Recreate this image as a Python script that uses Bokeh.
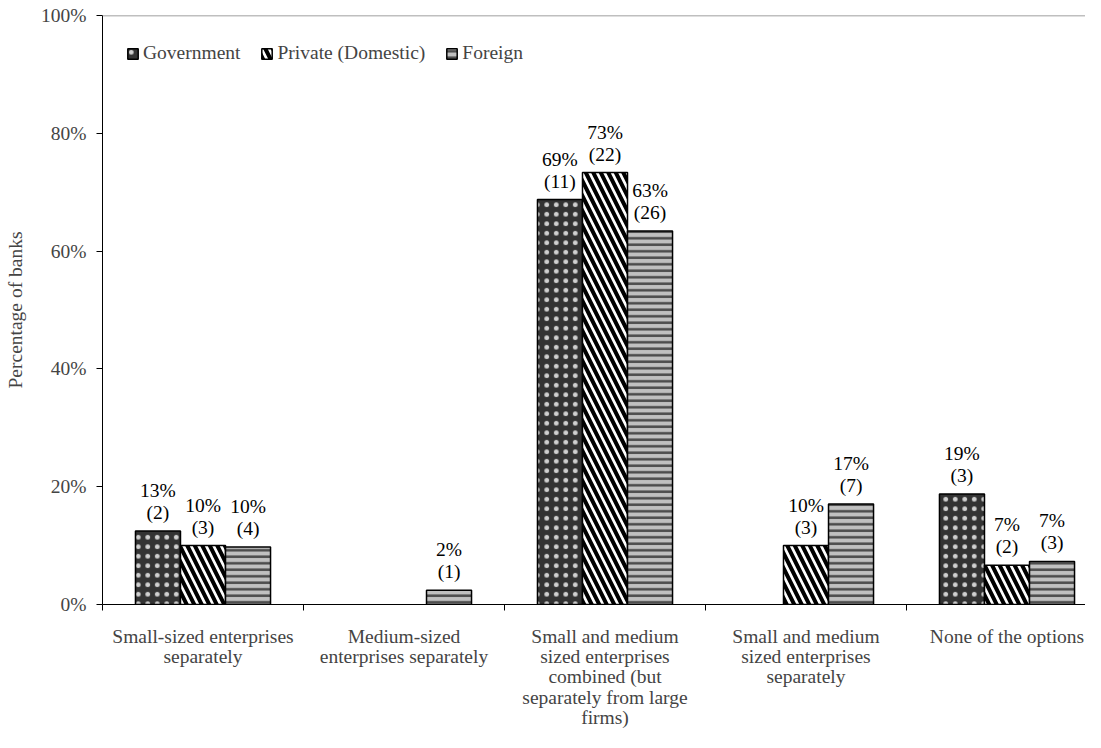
import numpy as np
from bokeh.plotting import figure
from bokeh.models import (ColumnDataSource, FixedTicker, PrintfTickFormatter, Range1d,
                          Legend, LegendItem, Span)
from bokeh.core.properties import value
from bokeh.embed import file_html
from bokeh.resources import INLINE

# ---------------- data ----------------
categories = [
    "Small-sized enterprises\nseparately",
    "Medium-sized\nenterprises separately",
    "Small and medium\nsized enterprises\ncombined (but\nseparately from large\nfirms)",
    "Small and medium\nsized enterprises\nseparately",
    "None of the options",
]
series = ["Government", "Private (Domestic)", "Foreign"]
government = [12.5, 0.0, 68.75, 0.0, 18.75]
private = [10.0, 0.0, 73.33, 10.0, 6.67]
foreign = [9.76, 2.44, 63.41, 17.07, 7.32]
government_n = [2, 0, 11, 0, 3]
private_n = [3, 0, 22, 3, 2]
foreign_n = [4, 1, 26, 7, 3]
y_ticks = [0, 20, 40, 60, 80, 100]

FONT = "Liberation Serif"
FS = "19.5px"

centers = np.arange(len(categories)) + 0.5
bar_w = 0.224
offsets = [-bar_w, 0.0, bar_w]

styles = [
    dict(fill_color="#333333", hatch_pattern="dot", hatch_color="#d0d0d0",
         hatch_scale=9.5, hatch_weight=2),
    dict(fill_color="white", hatch_pattern="left_diagonal_line", hatch_color="black",
         hatch_scale=15, hatch_weight=4),
    dict(fill_color="#c0c0c0", hatch_pattern="horizontal_line", hatch_color="#4a4a4a",
         hatch_scale=6.5, hatch_weight=2.5),
]

FRAME_W = 983
CAT_PX = 201
p = figure(frame_width=FRAME_W, frame_height=589,
           x_range=Range1d(0, FRAME_W / CAT_PX), y_range=Range1d(0, 100),
           output_backend="svg", toolbar_location=None,
           min_border_left=102, min_border_right=0, min_border_top=15, min_border_bottom=128)
p.outline_line_color = None
p.xgrid.visible = False
p.ygrid.visible = False
p.background_fill_color = "white"
p.border_fill_color = "white"

items = []
for name, vals, counts, off, st in zip(series, [government, private, foreign],
                                        [government_n, private_n, foreign_n], offsets, styles):
    keep = [i for i, v in enumerate(vals) if v > 0]
    src = ColumnDataSource(dict(
        x=[centers[i] + off for i in keep],
        top=[vals[i] for i in keep],
        text=[f"{int(vals[i] + 0.5)}%\n({counts[i]})" for i in keep],
    ))
    r = p.vbar(x="x", top="top", width=bar_w, bottom=0, source=src,
               line_color="black", line_width=1.5, **st)
    items.append(LegendItem(label=name, renderers=[r]))
    p.text(x="x", y="top", text="text", source=src, text_align="center",
           text_baseline="bottom", y_offset=-8, text_font=value(FONT),
           text_font_size=FS, text_color="black", text_line_height=1.05)

# top border line
p.add_layout(Span(location=100, dimension="width", line_color="#808080", line_width=1.5))

# y axis
ya = p.yaxis[0]
ya.ticker = FixedTicker(ticks=y_ticks, minor_ticks=[])
ya.formatter = PrintfTickFormatter(format="%d%%")
ya.axis_label = "Percentage of banks"
ya.axis_label_text_font = FONT
ya.axis_label_text_font_size = FS
ya.axis_label_text_font_style = "normal"
ya.axis_label_standoff = 12
ya.major_label_text_font = FONT
ya.major_label_text_font_size = FS
ya.major_label_standoff = 10
ya.major_tick_in = 0
ya.major_tick_out = 6
ya.axis_line_color = "black"
ya.major_tick_line_color = "black"

# x axis
xa = p.xaxis[0]
xa.ticker = FixedTicker(ticks=list(centers), minor_ticks=list(range(len(categories) + 1)))
xa.major_label_overrides = {float(c): lbl for c, lbl in zip(centers, categories)}
xa.major_label_text_font = FONT
xa.major_label_text_font_size = FS
xa.major_label_text_line_height = 0.97
xa.major_label_standoff = 15
xa.major_tick_in = 0
xa.major_tick_out = 0
xa.minor_tick_in = 0
xa.minor_tick_out = 6
xa.minor_tick_line_color = "black"
xa.axis_line_color = "black"

legend = Legend(items=items, orientation="horizontal", location=(24, 540),
                label_text_font=FONT, label_text_font_size=FS,
                glyph_width=13, glyph_height=13, label_standoff=4, spacing=20,
                padding=0, margin=0, border_line_color=None, background_fill_alpha=0)
p.add_layout(legend, "center")

open("out.html", "w").write(file_html(p, INLINE))
